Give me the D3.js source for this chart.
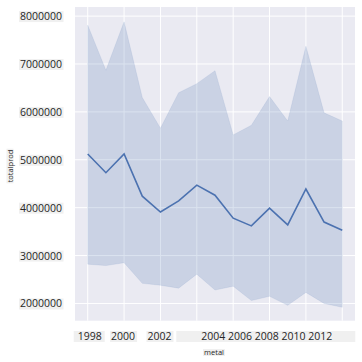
<!DOCTYPE html>
<html>
<head>
<meta charset="utf-8">
<script src="https://cdn.jsdelivr.net/npm/d3@7"></script>
<style>
  body { margin: 0; background: #fff; }
  text { font-family: "Open Sans", sans-serif; fill: #262626; }
</style>
</head>
<body>
<svg id="chart" width="362" height="362"></svg>
<script>
// data
const years = [1998, 1999, 2000, 2001, 2002, 2003, 2004, 2005, 2006, 2007, 2008, 2009, 2010, 2011, 2012];
const meanProd = [5.12e6, 4.73e6, 5.12e6, 4.24e6, 3.91e6, 4.14e6, 4.47e6, 4.26e6, 3.78e6, 3.62e6, 3.99e6, 3.64e6, 4.39e6, 3.70e6, 3.53e6];
const upperCI = [7.81e6, 6.87e6, 7.88e6, 6.30e6, 5.66e6, 6.40e6, 6.59e6, 6.86e6, 5.52e6, 5.72e6, 6.32e6, 5.81e6, 7.37e6, 5.98e6, 5.81e6];
const lowerCI = [2.82e6, 2.79e6, 2.85e6, 2.42e6, 2.38e6, 2.32e6, 2.61e6, 2.28e6, 2.36e6, 2.06e6, 2.15e6, 1.96e6, 2.23e6, 2.00e6, 1.92e6];
const yTicks = [2e6, 3e6, 4e6, 5e6, 6e6, 7e6, 8e6];
const xGridTicks = [1998, 2000, 2002, 2004, 2006, 2008, 2010, 2012];
const xTickLabels = ["1998", "2000", "2002", "2004 2006 2008 2010 2012"];

const svg = d3.select("#chart");
const plotL = 75, plotR = 355, plotT = 7, plotB = 320.7;

var x = d3.scaleLinear().domain([1997.3, 2012.7]).range([plotL, plotR]);
var y = d3.scaleLinear().domain([1.64e6, 8.19e6]).range([plotB, plotT]);

//plot background
svg.append("rect")
    .attr("x", plotL).attr("y", plotT)
    .attr("width", plotR - plotL).attr("height", plotB - plotT)
    .attr("fill", "#eaeaf2");

//grid
svg.selectAll(".vgrid").data(xGridTicks).join("line")
    .attr("x1", d => x(d)).attr("x2", d => x(d))
    .attr("y1", plotT).attr("y2", plotB)
    .attr("stroke", "#fff").attr("stroke-width", 1);
svg.selectAll(".hgrid").data(yTicks).join("line")
    .attr("x1", plotL).attr("x2", plotR)
    .attr("y1", d => y(d)).attr("y2", d => y(d))
    .attr("stroke", "#fff").attr("stroke-width", 1);

const rows = years.map((yr, i) => ({yr: yr, m: meanProd[i], lo: lowerCI[i], hi: upperCI[i]}));

//confidence band
var area = d3.area()
    .x(d => x(d.yr))
    .y0(d => y(d.lo))
    .y1(d => y(d.hi));
svg.append("path")
    .datum(rows)
    .attr("d", area)
    .attr("fill", "#4c72b0")
    .attr("fill-opacity", 0.2)
    .attr("stroke", "#4c72b0")
    .attr("stroke-opacity", 0.1);

//mean line
var line = d3.line().x(d => x(d.yr)).y(d => y(d.m));
svg.append("path")
    .datum(rows)
    .attr("d", line)
    .attr("fill", "none")
    .attr("stroke", "#4c72b0")
    .attr("stroke-width", 1.6);

// helper: text with a light box behind it
function boxedText(g, tx, ty, str, anchor, size, padL, padR) {
    const t = g.append("text")
        .attr("x", tx).attr("y", ty)
        .attr("text-anchor", anchor)
        .attr("dominant-baseline", "central")
        .style("font-size", size + "px")
        .text(str);
    const b = t.node().getBBox();
    g.insert("rect", "text")
        .attr("x", b.x - padL).attr("y", b.y + 2)
        .attr("width", b.width + padL + padR).attr("height", b.height - 3)
        .attr("fill", "#f0f0f0");
    return t;
}

//y tick labels
yTicks.forEach(v => {
    const g = svg.append("g");
    boxedText(g, 62, y(v), d3.format("d")(v), "end", 10.5, 1, 1.5);
});

//x tick labels
const xl = svg.append("g");
boxedText(xl.append("g"), x(1998) + 2, 336, xTickLabels[0], "middle", 10.5, 4, 3);
boxedText(xl.append("g"), x(2000) - 1, 336, xTickLabels[1], "middle", 10.5, 1, 2);
boxedText(xl.append("g"), x(2002) - 1, 336, xTickLabels[2], "middle", 10.5, 1, 2);
boxedText(xl.append("g"), x(2012) - 10, 336, xTickLabels[3], "end", 10.5, 25, 23);

//axis titles
const xt = svg.append("g");
boxedText(xt, 214, 352, "metal", "middle", 7.5, 1, 1);

const yt = svg.append("g").attr("transform", "translate(9.5,166) rotate(-90)");
boxedText(yt, 0, 0, "totalprod", "middle", 7.5, 1, 1);
</script>
</body>
</html>
